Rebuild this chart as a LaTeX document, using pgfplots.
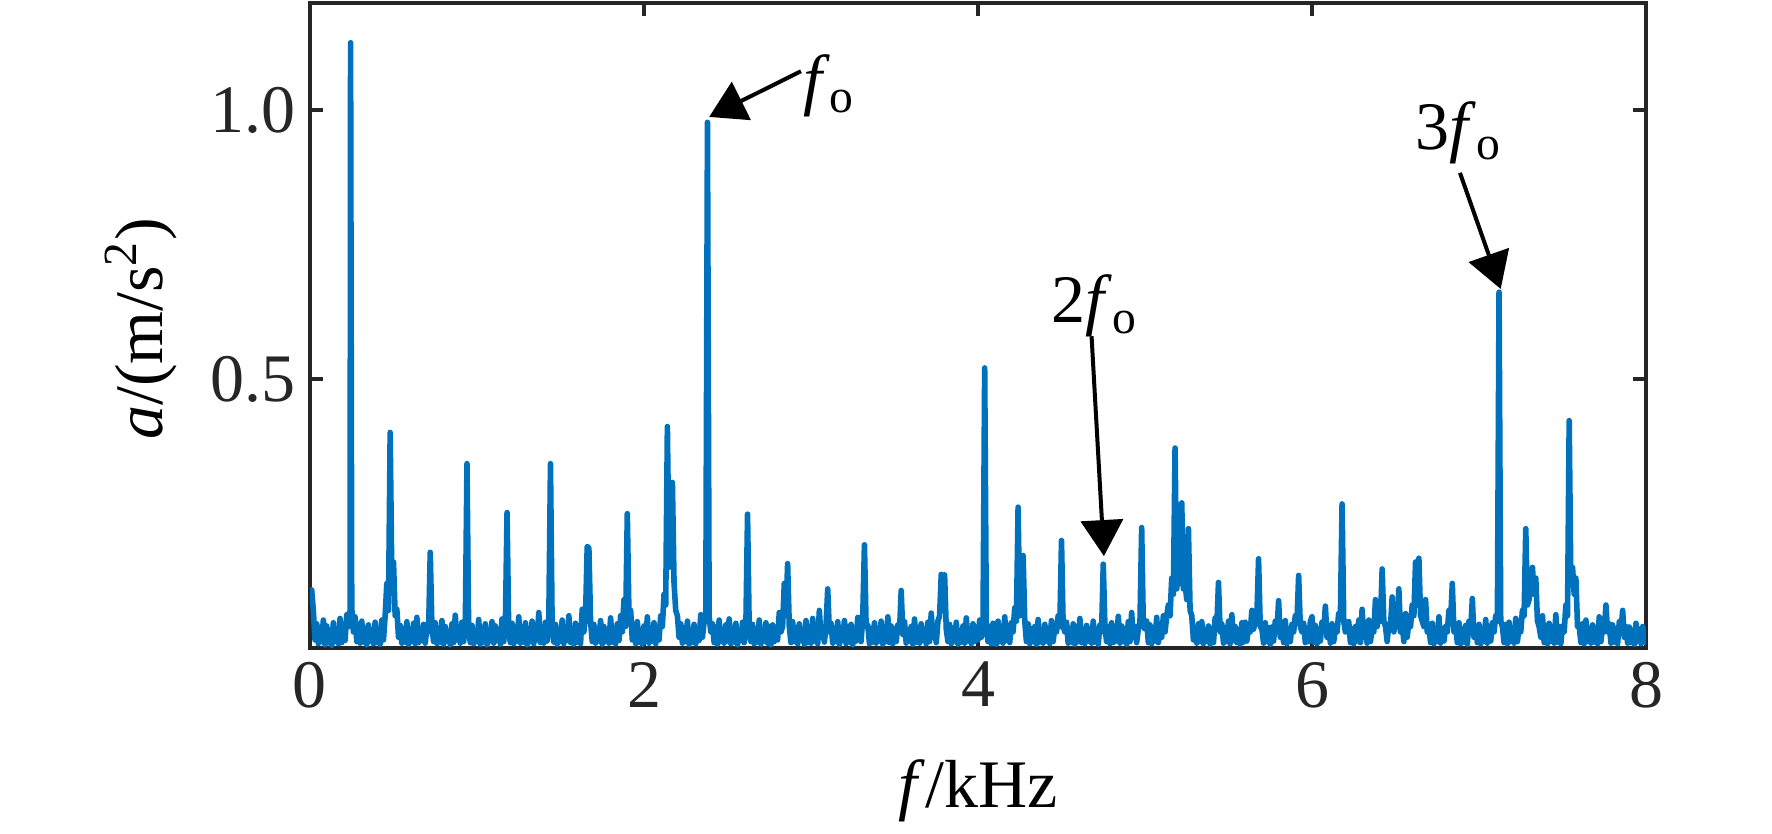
\documentclass[border=0pt]{standalone}
\usepackage{fontspec}
\setmainfont{Liberation Serif}
\usepackage{pgfplots}
\pgfplotsset{compat=1.18}
\usetikzlibrary{calc,arrows.meta}
\definecolor{mblue}{RGB}{0,114,189}
\definecolor{axgray}{RGB}{38,38,38}
\begin{document}
\begin{tikzpicture}[font=\fontsize{17}{20}\selectfont]
\begin{axis}[
  name=ax,
  scale only axis,
  width=334pt, height=161.25pt,
  xmin=0, xmax=8, ymin=0, ymax=1.2,
  xtick={0,2,4,6,8},
  ytick={0.5,1.0},
  yticklabels={0.5,1.0},
  /pgf/number format/assume math mode=true,
  tick align=inside,
  major tick length=3.3pt,
  axis line style={axgray, line width=1pt},
  every tick/.style={axgray, line width=1pt},
  tick label style={text=axgray},
  label style={text=black},
  xlabel={\textit{f}/kHz},
  ylabel={\textit{a}/(m/s\textsuperscript{2})},
  xlabel style={at={(axis description cs:0.5,-0.222)}, anchor=center},
  ylabel style={at={(axis description cs:-0.1265,0.495)}, anchor=center},
  clip=true,
]
\addplot[mblue, line width=1.4pt, line join=round] coordinates {
(0.00,0.100) (0.01,0.108) (0.02,0.070) (0.03,0.015) (0.04,0.045) (0.05,0.008) (0.06,0.038) (0.07,0.012) (0.08,0.052) (0.09,0.006)
(0.10,0.041) (0.11,0.010) (0.12,0.033) (0.13,0.005) (0.14,0.047) (0.15,0.012) (0.16,0.029) (0.17,0.008) (0.18,0.055) (0.19,0.010)
(0.20,0.036) (0.21,0.014) (0.22,0.062) (0.23,0.040) (0.24,0.070) (0.243,1.126) (0.25,0.075) (0.26,0.030) (0.27,0.058) (0.28,0.012) (0.29,0.044)
(0.30,0.009) (0.31,0.050) (0.32,0.011) (0.33,0.037) (0.34,0.006) (0.35,0.043) (0.36,0.013) (0.37,0.031) (0.38,0.008) (0.39,0.048)
(0.40,0.010) (0.41,0.035) (0.42,0.007) (0.43,0.052) (0.44,0.015) (0.45,0.060) (0.46,0.120) (0.47,0.070) (0.48,0.401) (0.49,0.130)
(0.50,0.160) (0.51,0.060) (0.52,0.072) (0.53,0.020) (0.54,0.042) (0.55,0.009) (0.56,0.036) (0.57,0.011) (0.58,0.049) (0.59,0.007)
(0.60,0.033) (0.61,0.012) (0.62,0.046) (0.63,0.008) (0.64,0.057) (0.65,0.010) (0.66,0.030) (0.67,0.014) (0.68,0.044) (0.69,0.009)
(0.70,0.038) (0.71,0.030) (0.72,0.178) (0.73,0.040) (0.74,0.012) (0.75,0.047) (0.76,0.008) (0.77,0.034) (0.78,0.011) (0.79,0.051)
(0.80,0.007) (0.81,0.040) (0.82,0.013) (0.83,0.029) (0.84,0.006) (0.85,0.045) (0.86,0.010) (0.87,0.061) (0.88,0.015) (0.89,0.036)
(0.90,0.009) (0.91,0.048) (0.92,0.012) (0.93,0.040) (0.94,0.343) (0.95,0.035) (0.96,0.010) (0.97,0.042) (0.98,0.008) (0.99,0.031)
(1.00,0.012) (1.01,0.053) (1.02,0.007) (1.03,0.037) (1.04,0.011) (1.05,0.045) (1.06,0.006) (1.07,0.032) (1.08,0.013) (1.09,0.049)
(1.10,0.009) (1.11,0.041) (1.12,0.014) (1.13,0.028) (1.14,0.007) (1.15,0.054) (1.16,0.012) (1.17,0.045) (1.18,0.252) (1.19,0.030)
(1.20,0.010) (1.21,0.046) (1.22,0.008) (1.23,0.039) (1.24,0.013) (1.25,0.058) (1.26,0.009) (1.27,0.033) (1.28,0.011) (1.29,0.047)
(1.30,0.006) (1.31,0.036) (1.32,0.012) (1.33,0.050) (1.34,0.008) (1.35,0.041) (1.36,0.015) (1.37,0.066) (1.38,0.010) (1.39,0.035)
(1.40,0.009) (1.41,0.048) (1.42,0.013) (1.43,0.050) (1.44,0.343) (1.45,0.040) (1.46,0.011) (1.47,0.044) (1.48,0.007) (1.49,0.030)
(1.50,0.012) (1.51,0.052) (1.52,0.008) (1.53,0.038) (1.54,0.014) (1.55,0.060) (1.56,0.010) (1.57,0.034) (1.58,0.007) (1.59,0.046)
(1.60,0.011) (1.61,0.039) (1.62,0.008) (1.63,0.072) (1.64,0.030) (1.65,0.060) (1.66,0.189) (1.67,0.186) (1.68,0.050) (1.69,0.012)
(1.70,0.044) (1.71,0.009) (1.72,0.035) (1.73,0.013) (1.74,0.051) (1.75,0.007) (1.76,0.040) (1.77,0.012) (1.78,0.031) (1.79,0.009)
(1.80,0.056) (1.81,0.011) (1.82,0.037) (1.83,0.008) (1.84,0.045) (1.85,0.014) (1.86,0.060) (1.87,0.030) (1.88,0.090) (1.89,0.040)
(1.90,0.250) (1.91,0.060) (1.92,0.070) (1.93,0.015) (1.94,0.042) (1.95,0.008) (1.96,0.049) (1.97,0.011) (1.98,0.033) (1.99,0.007)
(2.00,0.041) (2.01,0.012) (2.02,0.058) (2.03,0.009) (2.04,0.036) (2.05,0.013) (2.06,0.047) (2.07,0.008) (2.08,0.039) (2.09,0.015)
(2.10,0.060) (2.11,0.040) (2.12,0.100) (2.13,0.080) (2.14,0.412) (2.15,0.150) (2.16,0.200) (2.17,0.308) (2.18,0.120) (2.19,0.070)
(2.20,0.060) (2.21,0.020) (2.22,0.045) (2.23,0.009) (2.24,0.038) (2.25,0.012) (2.26,0.050) (2.27,0.007) (2.28,0.033) (2.29,0.011)
(2.30,0.044) (2.31,0.008) (2.32,0.036) (2.33,0.014) (2.34,0.062) (2.35,0.020) (2.36,0.048) (2.37,0.060) (2.38,0.978) (2.39,0.060)
(2.40,0.030) (2.41,0.045) (2.42,0.010) (2.43,0.039) (2.44,0.007) (2.45,0.052) (2.46,0.012) (2.47,0.034) (2.48,0.009) (2.49,0.043)
(2.50,0.013) (2.51,0.054) (2.52,0.008) (2.53,0.037) (2.54,0.011) (2.55,0.046) (2.56,0.006) (2.57,0.031) (2.58,0.014) (2.59,0.048)
(2.60,0.010) (2.61,0.040) (2.62,0.249) (2.63,0.035) (2.64,0.012) (2.65,0.044) (2.66,0.008) (2.67,0.036) (2.68,0.011) (2.69,0.052)
(2.70,0.007) (2.71,0.034) (2.72,0.013) (2.73,0.047) (2.74,0.009) (2.75,0.040) (2.76,0.006) (2.77,0.043) (2.78,0.012) (2.79,0.030)
(2.80,0.015) (2.81,0.066) (2.82,0.030) (2.83,0.040) (2.84,0.120) (2.85,0.060) (2.86,0.157) (2.87,0.040) (2.88,0.010) (2.89,0.049)
(2.90,0.012) (2.91,0.038) (2.92,0.008) (2.93,0.045) (2.94,0.014) (2.95,0.033) (2.96,0.007) (2.97,0.051) (2.98,0.010) (2.99,0.036)
(3.00,0.009) (3.01,0.055) (3.02,0.013) (3.03,0.042) (3.04,0.008) (3.05,0.070) (3.06,0.020) (3.07,0.037) (3.08,0.011) (3.09,0.040)
(3.10,0.110) (3.11,0.030) (3.12,0.046) (3.13,0.009) (3.14,0.037) (3.15,0.012) (3.16,0.049) (3.17,0.007) (3.18,0.032) (3.19,0.014)
(3.20,0.051) (3.21,0.008) (3.22,0.040) (3.23,0.011) (3.24,0.044) (3.25,0.006) (3.26,0.035) (3.27,0.013) (3.28,0.057) (3.29,0.030)
(3.30,0.012) (3.31,0.060) (3.32,0.192) (3.33,0.040) (3.34,0.043) (3.35,0.008) (3.36,0.036) (3.37,0.011) (3.38,0.047) (3.39,0.009)
(3.40,0.034) (3.41,0.013) (3.42,0.050) (3.43,0.007) (3.44,0.039) (3.45,0.012) (3.46,0.058) (3.47,0.010) (3.48,0.041) (3.49,0.008)
(3.50,0.036) (3.51,0.012) (3.52,0.043) (3.53,0.030) (3.54,0.107) (3.55,0.025) (3.56,0.049) (3.57,0.009) (3.58,0.034) (3.59,0.013)
(3.60,0.040) (3.61,0.007) (3.62,0.054) (3.63,0.011) (3.64,0.038) (3.65,0.009) (3.66,0.045) (3.67,0.014) (3.68,0.031) (3.69,0.008)
(3.70,0.048) (3.71,0.012) (3.72,0.065) (3.73,0.020) (3.74,0.040) (3.75,0.010) (3.76,0.050) (3.77,0.060) (3.78,0.137) (3.79,0.080)
(3.80,0.136) (3.81,0.035) (3.82,0.012) (3.83,0.044) (3.84,0.008) (3.85,0.037) (3.86,0.013) (3.87,0.048) (3.88,0.007) (3.89,0.033)
(3.90,0.011) (3.91,0.041) (3.92,0.009) (3.93,0.056) (3.94,0.013) (3.95,0.036) (3.96,0.008) (3.97,0.045) (3.98,0.012) (3.99,0.039)
(4.00,0.015) (4.01,0.052) (4.02,0.020) (4.03,0.045) (4.04,0.521) (4.05,0.040) (4.06,0.012) (4.07,0.040) (4.08,0.008) (4.09,0.046)
(4.10,0.033) (4.11,0.007) (4.12,0.050) (4.13,0.012) (4.14,0.037) (4.15,0.009) (4.16,0.058) (4.17,0.014) (4.18,0.042) (4.19,0.010)
(4.20,0.047) (4.21,0.030) (4.22,0.075) (4.23,0.050) (4.24,0.262) (4.25,0.060) (4.26,0.100) (4.27,0.172) (4.28,0.050) (4.29,0.012)
(4.30,0.045) (4.31,0.008) (4.32,0.036) (4.33,0.012) (4.34,0.040) (4.35,0.007) (4.36,0.053) (4.37,0.011) (4.38,0.034) (4.39,0.009)
(4.40,0.044) (4.41,0.013) (4.42,0.037) (4.43,0.008) (4.44,0.051) (4.45,0.012) (4.46,0.040) (4.47,0.030) (4.48,0.060) (4.49,0.040)
(4.50,0.200) (4.51,0.040) (4.52,0.030) (4.53,0.048) (4.54,0.009) (4.55,0.036) (4.56,0.011) (4.57,0.045) (4.58,0.007) (4.59,0.039)
(4.60,0.012) (4.61,0.055) (4.62,0.010) (4.63,0.034) (4.64,0.008) (4.65,0.042) (4.66,0.013) (4.67,0.036) (4.68,0.009) (4.69,0.050)
(4.70,0.011) (4.71,0.036) (4.72,0.007) (4.73,0.043) (4.74,0.030) (4.75,0.156) (4.76,0.040) (4.77,0.012) (4.78,0.040) (4.79,0.008)
(4.80,0.047) (4.81,0.010) (4.82,0.033) (4.83,0.013) (4.84,0.059) (4.85,0.009) (4.86,0.041) (4.87,0.012) (4.88,0.036) (4.89,0.007)
(4.90,0.049) (4.91,0.012) (4.92,0.066) (4.93,0.020) (4.94,0.040) (4.95,0.010) (4.96,0.035) (4.97,0.050) (4.98,0.224) (4.99,0.040)
(5.00,0.035) (5.01,0.050) (5.02,0.010) (5.03,0.043) (5.04,0.008) (5.05,0.038) (5.06,0.013) (5.07,0.057) (5.08,0.010) (5.09,0.044)
(5.10,0.020) (5.11,0.060) (5.12,0.030) (5.13,0.060) (5.14,0.080) (5.15,0.060) (5.16,0.130) (5.17,0.100) (5.18,0.372) (5.19,0.110)
(5.20,0.150) (5.21,0.120) (5.22,0.270) (5.23,0.110) (5.24,0.120) (5.25,0.090) (5.26,0.222) (5.27,0.070) (5.28,0.060) (5.29,0.015)
(5.30,0.038) (5.31,0.009) (5.32,0.045) (5.33,0.012) (5.34,0.049) (5.35,0.008) (5.36,0.034) (5.37,0.013) (5.38,0.041) (5.39,0.007)
(5.40,0.036) (5.41,0.010) (5.42,0.056) (5.43,0.040) (5.44,0.122) (5.45,0.030) (5.46,0.045) (5.47,0.009) (5.48,0.038) (5.49,0.012)
(5.50,0.050) (5.51,0.008) (5.52,0.062) (5.53,0.014) (5.54,0.040) (5.55,0.010) (5.56,0.034) (5.57,0.007) (5.58,0.047) (5.59,0.011)
(5.60,0.048) (5.61,0.013) (5.62,0.039) (5.63,0.030) (5.64,0.070) (5.65,0.035) (5.66,0.050) (5.67,0.060) (5.68,0.166) (5.69,0.040)
(5.70,0.035) (5.71,0.009) (5.72,0.047) (5.73,0.012) (5.74,0.038) (5.75,0.007) (5.76,0.039) (5.77,0.013) (5.78,0.050) (5.79,0.030)
(5.80,0.088) (5.81,0.020) (5.82,0.040) (5.83,0.010) (5.84,0.051) (5.85,0.008) (5.86,0.036) (5.87,0.012) (5.88,0.044) (5.89,0.030)
(5.90,0.060) (5.91,0.050) (5.92,0.135) (5.93,0.040) (5.94,0.030) (5.95,0.046) (5.96,0.010) (5.97,0.037) (5.98,0.012) (5.99,0.049)
(6.00,0.058) (6.01,0.011) (6.02,0.042) (6.03,0.008) (6.04,0.035) (6.05,0.013) (6.06,0.048) (6.07,0.030) (6.08,0.078) (6.09,0.020)
(6.10,0.040) (6.11,0.009) (6.12,0.045) (6.13,0.012) (6.14,0.037) (6.15,0.030) (6.16,0.065) (6.17,0.060) (6.18,0.268) (6.19,0.050)
(6.20,0.030) (6.21,0.040) (6.22,0.049) (6.23,0.010) (6.24,0.036) (6.25,0.008) (6.26,0.040) (6.27,0.013) (6.28,0.052) (6.29,0.010)
(6.30,0.072) (6.31,0.020) (6.32,0.043) (6.33,0.009) (6.34,0.052) (6.35,0.012) (6.36,0.038) (6.37,0.030) (6.38,0.090) (6.39,0.040)
(6.40,0.060) (6.41,0.050) (6.42,0.147) (6.43,0.050) (6.44,0.040) (6.45,0.012) (6.46,0.045) (6.47,0.040) (6.48,0.095) (6.49,0.030)
(6.50,0.050) (6.51,0.040) (6.52,0.110) (6.53,0.030) (6.54,0.045) (6.55,0.012) (6.56,0.064) (6.57,0.020) (6.58,0.048) (6.59,0.040)
(6.60,0.080) (6.61,0.060) (6.62,0.160) (6.63,0.080) (6.64,0.167) (6.65,0.060) (6.66,0.050) (6.67,0.040) (6.68,0.090) (6.69,0.030)
(6.70,0.040) (6.71,0.010) (6.72,0.046) (6.73,0.008) (6.74,0.037) (6.75,0.012) (6.76,0.058) (6.77,0.009) (6.78,0.036) (6.79,0.013)
(6.80,0.040) (6.81,0.030) (6.82,0.070) (6.83,0.050) (6.84,0.120) (6.85,0.030) (6.86,0.044) (6.87,0.010) (6.88,0.047) (6.89,0.008)
(6.90,0.035) (6.91,0.011) (6.92,0.042) (6.93,0.007) (6.94,0.050) (6.95,0.030) (6.96,0.092) (6.97,0.020) (6.98,0.040) (6.99,0.010)
(7.00,0.044) (7.01,0.008) (7.02,0.036) (7.03,0.012) (7.04,0.053) (7.05,0.009) (7.06,0.040) (7.07,0.013) (7.08,0.047) (7.09,0.030)
(7.10,0.060) (7.11,0.050) (7.12,0.662) (7.13,0.050) (7.14,0.040) (7.15,0.010) (7.16,0.044) (7.17,0.008) (7.18,0.048) (7.19,0.012)
(7.20,0.037) (7.21,0.009) (7.22,0.055) (7.23,0.012) (7.24,0.040) (7.25,0.030) (7.26,0.070) (7.27,0.060) (7.28,0.222) (7.29,0.080)
(7.30,0.090) (7.31,0.120) (7.32,0.150) (7.33,0.100) (7.34,0.130) (7.35,0.050) (7.36,0.040) (7.37,0.020) (7.38,0.060) (7.39,0.010)
(7.40,0.042) (7.41,0.008) (7.42,0.046) (7.43,0.012) (7.44,0.036) (7.45,0.009) (7.46,0.062) (7.47,0.011) (7.48,0.040) (7.49,0.008)
(7.50,0.041) (7.51,0.030) (7.52,0.080) (7.53,0.060) (7.54,0.423) (7.55,0.120) (7.56,0.150) (7.57,0.100) (7.58,0.130) (7.59,0.040)
(7.60,0.040) (7.61,0.010) (7.62,0.045) (7.63,0.008) (7.64,0.052) (7.65,0.012) (7.66,0.036) (7.67,0.009) (7.68,0.043) (7.69,0.011)
(7.70,0.037) (7.71,0.008) (7.72,0.058) (7.73,0.012) (7.74,0.040) (7.75,0.030) (7.76,0.080) (7.77,0.030) (7.78,0.045) (7.79,0.009)
(7.80,0.043) (7.81,0.011) (7.82,0.036) (7.83,0.008) (7.84,0.049) (7.85,0.030) (7.86,0.070) (7.87,0.020) (7.88,0.040) (7.89,0.009)
(7.90,0.039) (7.91,0.010) (7.92,0.033) (7.93,0.007) (7.94,0.046) (7.95,0.012) (7.96,0.035) (7.97,0.008) (7.98,0.040) (7.99,0.010)
(8.00,0.030)
};
\draw[black, line width=1pt, -{Triangle[length=9pt,width=10.5pt]}] (axis cs:2.94,1.073) -- (axis cs:2.39,0.988);
\draw[black, line width=1pt, -{Triangle[length=9pt,width=10.5pt]}] (axis cs:4.68,0.580) -- (axis cs:4.754,0.171);
\draw[black, line width=1pt, -{Triangle[length=9pt,width=10.5pt]}] (axis cs:6.886,0.884) -- (axis cs:7.13,0.668);
\end{axis}
\node[anchor=base] at ($(ax.south west)+(3.11*41.75pt,1.015*134.375pt)$) {\textit{f}\textsubscript{o}};
\node[anchor=base] at ($(ax.south west)+(4.70*41.75pt,0.605*134.375pt)$) {2\textit{f}\textsubscript{o}};
\node[anchor=base] at ($(ax.south west)+(6.88*41.75pt,0.928*134.375pt)$) {3\textit{f}\textsubscript{o}};
\pgfresetboundingbox
\path ($(ax.south west)+(-77.5pt,-46.25pt)$) rectangle ($(ax.north east)+(31.5pt,0.75pt)$);
\end{tikzpicture}
\end{document}
